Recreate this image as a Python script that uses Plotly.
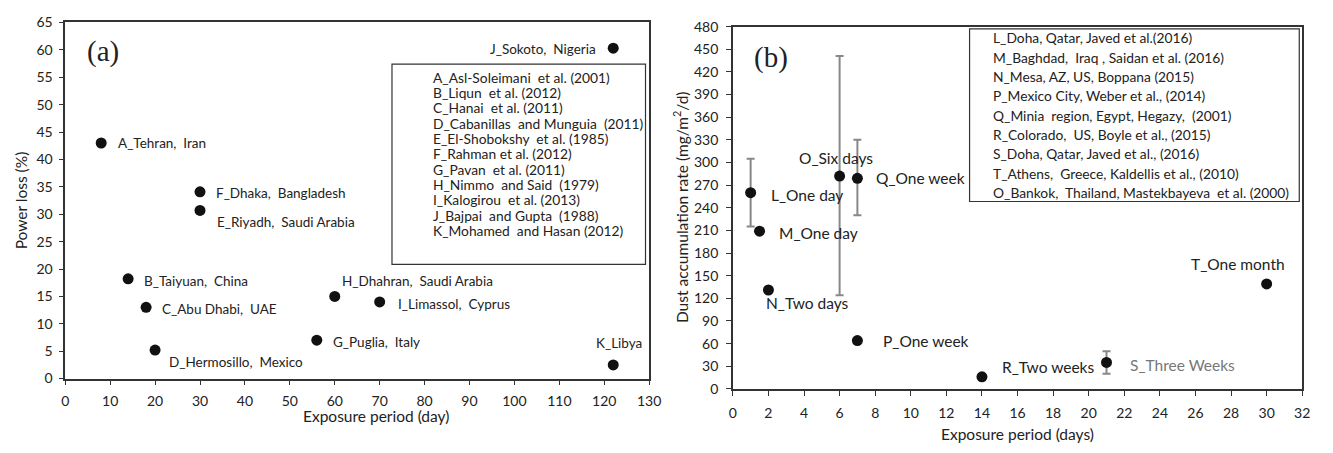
import plotly.graph_objects as go

W, H = 1333, 453

# ---------------- Data: panel (a) ----------------
a_ids = ["A", "B", "C", "D", "E", "F", "G", "H", "I", "J", "K"]
a_days = [8, 14, 18, 20, 30, 30, 56, 60, 70, 122, 122]
a_loss = [43, 18.2, 13, 5.2, 30.7, 34.1, 7, 15, 14, 60.3, 2.5]
a_labels = ["A_Tehran,  Iran", "B_Taiyuan,  China", "C_Abu Dhabi,  UAE",
            "D_Hermosillo,  Mexico", "E_Riyadh,  Saudi Arabia", "F_Dhaka,  Bangladesh",
            "G_Puglia,  Italy", "H_Dhahran,  Saudi Arabia", "I_Limassol,  Cyprus",
            "J_Sokoto,  Nigeria", "K_Libya"]
a_legend = ["A_Asl-Soleimani  et al. (2001)", "B_Liqun  et al. (2012)",
            "C_Hanai  et al. (2011)", "D_Cabanillas  and Munguia  (2011)",
            "E_El-Shobokshy  et al. (1985)", "F_Rahman et al. (2012)",
            "G_Pavan  et al. (2011)", "H_Nimmo  and Said  (1979)",
            "I_Kalogirou  et al. (2013)", "J_Bajpai  and Gupta  (1988)",
            "K_Mohamed  and Hasan (2012)"]
a_xticks = list(range(0, 131, 10))
a_yticks = list(range(0, 66, 5))

# ---------------- Data: panel (b) ----------------
b_ids = ["L", "M", "N", "O", "Q", "P", "R", "S", "T"]
b_days = [1, 1.5, 2, 6, 7, 7, 14, 21, 30]
b_rate = [260, 209, 131, 282, 279, 64, 16, 35, 139]
b_err_plus = [45, None, None, 159, 51, None, None, 15, None]
b_err_minus = [45, None, None, 158, 49, None, None, 15, None]
b_labels = ["L_One day", "M_One day", "N_Two days", "O_Six days", "Q_One week",
            "P_One week", "R_Two weeks", "S_Three Weeks", "T_One month"]
b_legend = ["L_Doha, Qatar, Javed et al.(2016)",
            "M_Baghdad,  Iraq , Saidan et al. (2016)",
            "N_Mesa, AZ, US, Boppana (2015)",
            "P_Mexico City, Weber et al., (2014)",
            "Q_Minia  region, Egypt, Hegazy,  (2001)",
            "R_Colorado,  US, Boyle et al., (2015)",
            "S_Doha, Qatar, Javed et al., (2016)",
            "T_Athens,  Greece, Kaldellis et al., (2010)",
            "O_Bankok,  Thailand, Mastekbayeva  et al. (2000)"]
b_xticks = list(range(0, 33, 2))
b_yticks = list(range(0, 481, 30))

# ---------------- Styling (label offsets in px: dx, dy-down, anchor) ----------------
a_off = {"A": (15, 0, "left"), "B": (14, 2, "left"), "C": (14, 2, "left"),
         "D": (12, 12, "left"), "E": (15, 12, "left"), "F": (14, 1, "left"),
         "G": (14, 2, "left"), "H": (5, -15, "left"), "I": (16, 2, "left"),
         "J": (-15, 1, "right"), "K": (6, -22, "center")}
b_off = {"L": (18, 2, "left"), "M": (17, 2, "left"), "N": (-4, 13, "left"),
         "O": (-43, -18, "left"), "Q": (17, 0, "left"), "P": (24, 0, "left"),
         "R": (18, -10, "left"), "S": (21, 3, "left"), "T": (20, -20, "right")}

FONT = "Lato"
TXT = "#222222"
AX = "#333333"

def px(x):
    return x / W

def py(y):
    return 1 - y / H

fig = go.Figure()

# panel (a)
fig.add_trace(go.Scatter(x=a_days, y=a_loss, mode="markers",
                         marker=dict(size=11, color="#111111"),
                         xaxis="x", yaxis="y", showlegend=False))

# panel (b): points with error bars and without
e_idx = [i for i, v in enumerate(b_err_plus) if v is not None]
n_idx = [i for i, v in enumerate(b_err_plus) if v is None]
fig.add_trace(go.Scatter(x=[b_days[i] for i in e_idx], y=[b_rate[i] for i in e_idx],
                         mode="markers", marker=dict(size=11, color="#111111"),
                         error_y=dict(type="data", symmetric=False,
                                      array=[b_err_plus[i] for i in e_idx],
                                      arrayminus=[b_err_minus[i] for i in e_idx],
                                      color="#888888", thickness=2, width=4),
                         xaxis="x2", yaxis="y2", showlegend=False))
fig.add_trace(go.Scatter(x=[b_days[i] for i in n_idx], y=[b_rate[i] for i in n_idx],
                         mode="markers", marker=dict(size=11, color="#111111"),
                         xaxis="x2", yaxis="y2", showlegend=False))

ann = []
for i, k in enumerate(a_ids):
    dx, dy, anc = a_off[k]
    ann.append(dict(x=a_days[i], y=a_loss[i], xref="x", yref="y", text=a_labels[i],
                    showarrow=False, xanchor=anc, yanchor="middle",
                    xshift=dx, yshift=-dy, font=dict(family=FONT, size=13.5, color=TXT)))
for i, k in enumerate(b_ids):
    dx, dy, anc = b_off[k]
    col = "#777777" if k == "S" else TXT
    ann.append(dict(x=b_days[i], y=b_rate[i], xref="x2", yref="y2", text=b_labels[i],
                    showarrow=False, xanchor=anc, yanchor="middle",
                    xshift=dx, yshift=-dy, font=dict(family=FONT, size=15.5, color=col)))

# legend boxes text
for i, t in enumerate(a_legend):
    ann.append(dict(x=px(432), y=py(71 + 15.9 * i), xref="paper", yref="paper", text=t,
                    showarrow=False, xanchor="left", yanchor="middle",
                    font=dict(family=FONT, size=13.8, color=TXT)))
for i, t in enumerate(b_legend):
    ann.append(dict(x=px(999), y=py(30 + 20.1 * i), xref="paper", yref="paper", text=t,
                    showarrow=False, xanchor="left", yanchor="middle",
                    font=dict(family=FONT, size=13.8, color=TXT)))

# panel tags and axis titles
C = dict(xanchor="center", yanchor="middle", showarrow=False, xref="paper", yref="paper")
ann += [
    dict(x=px(100), y=py(44), text="(a)",
         font=dict(family="Liberation Serif", size=29, color=TXT), **C),
    dict(x=px(776), y=py(50), text="(b)",
         font=dict(family="Liberation Serif", size=29, color=TXT), **C),
    dict(x=px(377), y=py(423), text="Exposure period (day)",
         font=dict(family=FONT, size=15.5, color=TXT), **C),
    dict(x=px(1026), y=py(442), text="Exposure period (days)",
         font=dict(family=FONT, size=15.5, color=TXT), **C),
    dict(x=px(17), y=py(199), text="Power loss (%)", textangle=-90,
         font=dict(family=FONT, size=15.5, color=TXT), **C),
    dict(x=px(685), y=py(206), text="Dust accumulation rate (mg/m<sup>2</sup>/d)",
         textangle=-90, font=dict(family=FONT, size=15.5, color=TXT), **C),
]

shapes = [
    dict(type="rect", xref="paper", yref="paper", x0=px(392.7), x1=px(649.3),
         y0=py(265.3), y1=py(57.3), line=dict(color=AX, width=1.2)),
    dict(type="rect", xref="paper", yref="paper", x0=px(977.3), x1=px(1311),
         y0=py(200), y1=py(20.7), line=dict(color=AX, width=1.2)),
]

axis_common = dict(showgrid=False, zeroline=False, showline=True, linecolor=AX,
                   linewidth=1.5, mirror=True, ticks="outside", ticklen=5,
                   tickcolor=AX, tickwidth=1.2,
                   tickfont=dict(family=FONT, size=14, color=TXT))

fig.update_layout(
    width=W, height=H, margin=dict(l=0, r=0, t=0, b=0),
    plot_bgcolor="white", paper_bgcolor="white",
    xaxis=dict(domain=[px(62), px(653)], range=[0, 130], tickvals=a_xticks,
               anchor="y", ticklabelstandoff=4, **axis_common),
    yaxis=dict(domain=[py(384), py(14)], range=[0, 65], tickvals=a_yticks,
               anchor="x", ticklabelstandoff=3, **axis_common),
    xaxis2=dict(domain=[px(737.7), px(1314)], range=[0, 32], tickvals=b_xticks,
                anchor="y2", ticklabelstandoff=6, **axis_common),
    yaxis2=dict(domain=[py(394.7), py(18.3)], range=[0, 480], tickvals=b_yticks,
                anchor="x2", ticklabelstandoff=5, **axis_common),
    annotations=ann, shapes=shapes,
)

fig.write_html("out.html")
